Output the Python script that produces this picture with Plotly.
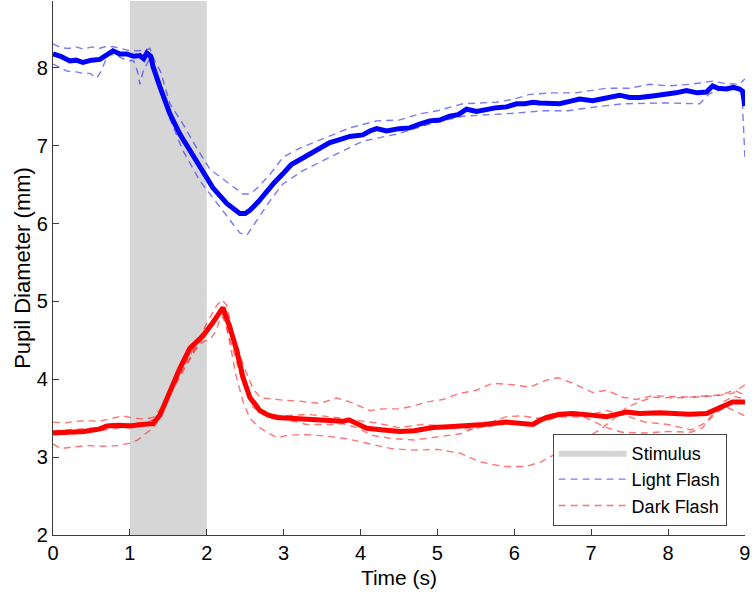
import plotly.graph_objects as go

# ---------------- data ----------------
stim_window = [1.0, 2.0]
y_axis_range = [2.0, 8.86]
x_ticks = [0, 1, 2, 3, 4, 5, 6, 7, 8, 9]
y_ticks = [2, 3, 4, 5, 6, 7, 8]

blue_mean_t = [0.0, 0.1, 0.22, 0.3, 0.39, 0.5, 0.61, 0.7, 0.78, 0.87, 0.96, 1.05, 1.13, 1.18, 1.22, 1.27,
               1.30, 1.39, 1.52, 1.65, 1.78, 1.91, 2.08, 2.26, 2.43, 2.50, 2.56, 2.67, 2.78, 2.88, 2.99,
               3.1, 3.21, 3.35, 3.48, 3.60, 3.73, 3.86, 4.03, 4.12, 4.21, 4.34, 4.5, 4.64, 4.77, 4.90,
               5.03, 5.16, 5.27, 5.38, 5.51, 5.64, 5.77, 5.90, 6.03, 6.14, 6.24, 6.33, 6.46, 6.59, 6.72,
               6.85, 7.02, 7.2, 7.37, 7.5, 7.63, 7.8, 7.98, 8.1, 8.24, 8.38, 8.50, 8.58, 8.65, 8.76,
               8.85, 8.93, 8.97, 9.0]
blue_mean_y = [8.18, 8.15, 8.09, 8.10, 8.07, 8.10, 8.11, 8.17, 8.22, 8.18, 8.18, 8.15, 8.16, 8.12, 8.19, 8.15,
               8.02, 7.76, 7.41, 7.15, 6.94, 6.72, 6.46, 6.26, 6.13, 6.13, 6.17, 6.28, 6.42, 6.53, 6.64,
               6.76, 6.82, 6.90, 6.97, 7.04, 7.08, 7.12, 7.14, 7.19, 7.22, 7.19, 7.22, 7.23, 7.28, 7.32,
               7.33, 7.38, 7.40, 7.47, 7.44, 7.47, 7.49, 7.50, 7.54, 7.54, 7.56, 7.55, 7.55, 7.54, 7.57,
               7.60, 7.58, 7.62, 7.65, 7.62, 7.62, 7.64, 7.66, 7.68, 7.71, 7.68, 7.69, 7.77, 7.74, 7.73,
               7.75, 7.73, 7.70, 7.51]

blue_upper_t = [0.0, 0.1, 0.2, 0.3, 0.4, 0.5, 0.6, 0.7, 0.8, 0.9, 1.0, 1.1, 1.2, 1.26, 1.32, 1.4, 1.52,
                1.69, 1.87, 2.04, 2.30, 2.47, 2.56, 2.65, 2.82, 2.99, 3.21, 3.43, 3.69, 3.86, 4.21, 4.5,
                4.77, 5.0, 5.33, 5.77, 6.0, 6.2, 6.5, 6.8, 7.2, 7.5, 7.76, 8.0, 8.28, 8.58, 8.75, 8.93, 9.0]
blue_upper_y = [8.31, 8.26, 8.25, 8.27, 8.24, 8.27, 8.25, 8.28, 8.27, 8.24, 8.22, 8.22, 8.23, 8.25, 8.10, 7.95, 7.54,
                7.28, 6.97, 6.70, 6.51, 6.38, 6.38, 6.45, 6.63, 6.85, 6.97, 7.06, 7.17, 7.23, 7.32, 7.33,
                7.41, 7.45, 7.54, 7.56, 7.60, 7.66, 7.68, 7.68, 7.74, 7.74, 7.79, 7.77, 7.79, 7.83, 7.80, 7.79, 7.86]

blue_lower_t = [0.0, 0.1, 0.18, 0.3, 0.4, 0.48, 0.57, 0.62, 0.72, 0.85, 0.95, 1.05, 1.10, 1.13, 1.17, 1.26,
                1.35, 1.52, 1.69, 1.91, 2.13, 2.30, 2.43, 2.52, 2.65, 2.82, 2.99, 3.25, 3.51, 3.77, 4.03,
                4.47, 4.90, 5.33, 5.68, 6.03, 6.37, 6.7, 6.98, 7.41, 7.98, 8.41, 8.54, 8.7, 8.9, 8.96, 9.0]
blue_lower_y = [8.05, 8.00, 7.96, 7.95, 7.93, 7.93, 7.87, 7.95, 8.18, 8.15, 8.10, 8.09, 7.95, 7.79, 7.95, 8.13,
                7.83, 7.35, 6.94, 6.55, 6.26, 6.04, 5.88, 5.85, 6.04, 6.29, 6.51, 6.68, 6.81, 6.94, 7.06,
                7.15, 7.28, 7.38, 7.40, 7.42, 7.45, 7.45, 7.49, 7.54, 7.55, 7.54, 7.67, 7.73, 7.72, 7.70, 6.85]

red_mean_t = [0.0, 0.2, 0.4, 0.6, 0.7, 0.85, 1.0, 1.15, 1.30, 1.39, 1.52, 1.65, 1.78, 1.95, 2.08, 2.21,
              2.30, 2.39, 2.47, 2.56, 2.69, 2.80, 2.91, 3.1, 3.34, 3.55, 3.77, 3.85, 3.95, 4.08, 4.3,
              4.51, 4.7, 4.94, 5.15, 5.38, 5.6, 5.90, 6.1, 6.24, 6.33, 6.42, 6.59, 6.76, 7.0, 7.20,
              7.46, 7.63, 7.89, 8.28, 8.50, 8.67, 8.76, 8.84, 9.0]
red_mean_y = [3.31, 3.32, 3.33, 3.36, 3.40, 3.41, 3.40, 3.42, 3.43, 3.54, 3.86, 4.14, 4.40, 4.56, 4.73, 4.92,
              4.67, 4.37, 4.03, 3.77, 3.60, 3.54, 3.51, 3.50, 3.48, 3.47, 3.46, 3.48, 3.43, 3.37, 3.35,
              3.33, 3.34, 3.38, 3.39, 3.40, 3.42, 3.45, 3.44, 3.42, 3.47, 3.51, 3.55, 3.56, 3.54, 3.52,
              3.58, 3.56, 3.57, 3.55, 3.56, 3.64, 3.69, 3.71, 3.71]

red_a_t = [0.0, 0.15, 0.3, 0.45, 0.6, 0.75, 0.9, 1.05, 1.2, 1.3, 1.4, 1.55, 1.7, 1.85, 2.0, 2.13, 2.2,
           2.26, 2.34, 2.47, 2.6, 2.7, 2.85, 3.0, 3.2, 3.47, 3.69, 3.86, 4.12, 4.3, 4.51, 4.7, 4.86,
           5.07, 5.29, 5.51, 5.72, 5.98, 6.2, 6.42, 6.57, 6.76, 7.02, 7.2, 7.41, 7.59, 7.8, 8.0, 8.33,
           8.63, 8.84, 9.0]
red_a_y = [3.45, 3.44, 3.46, 3.47, 3.46, 3.50, 3.53, 3.50, 3.49, 3.51, 3.62, 3.93, 4.22, 4.42, 4.72, 4.95, 5.02,
           4.95, 4.60, 4.20, 3.88, 3.76, 3.75, 3.73, 3.72, 3.69, 3.76, 3.71, 3.60, 3.62, 3.62, 3.66, 3.71,
           3.74, 3.82, 3.86, 3.95, 3.93, 3.90, 3.99, 4.02, 3.95, 3.83, 3.86, 3.77, 3.74, 3.79, 3.78, 3.77,
           3.79, 3.82, 3.93]

red_b_t = [0.0, 0.3, 0.6, 0.9, 1.2, 1.35, 1.5, 1.7, 1.9, 2.05, 2.18, 2.27, 2.37, 2.47, 2.6, 2.75, 3.0,
           3.3, 3.6, 3.77, 3.95, 4.15, 4.4, 4.7, 5.0, 5.3, 5.5, 5.9, 6.1, 6.3, 6.6, 6.9, 7.05, 7.2,
           7.4, 7.7, 8.0, 8.3, 8.45, 8.6, 8.75, 8.9, 9.0]
red_b_y = [3.34, 3.36, 3.38, 3.43, 3.44, 3.50, 3.80, 4.15, 4.45, 4.68, 4.88, 4.72, 4.35, 4.00, 3.68, 3.55, 3.49,
           3.42, 3.42, 3.43, 3.38, 3.28, 3.24, 3.22, 3.26, 3.30, 3.38, 3.52, 3.53, 3.50, 3.52, 3.52, 3.45, 3.38,
           3.32, 3.31, 3.33, 3.32, 3.38, 3.55, 3.65, 3.58, 3.53]

red_c_t = [0.0, 0.3, 0.6, 0.9, 1.2, 1.35, 1.5, 1.7, 1.9, 2.05, 2.18, 2.27, 2.37, 2.47, 2.6, 2.75, 3.0,
           3.3, 3.6, 3.9, 4.2, 4.5, 4.8, 5.1, 5.4, 5.7, 6.0, 6.3, 6.5, 6.8, 7.0, 7.2, 7.4, 7.7, 8.0,
           8.3, 8.5, 8.7, 8.85, 9.0]
red_c_y = [3.30, 3.31, 3.34, 3.38, 3.41, 3.47, 3.84, 4.18, 4.50, 4.72, 4.90, 4.62, 4.30, 3.95, 3.64, 3.56, 3.53,
           3.55, 3.52, 3.48, 3.44, 3.38, 3.42, 3.40, 3.36, 3.40, 3.45, 3.44, 3.50, 3.58, 3.55, 3.60, 3.55, 3.45,
           3.42, 3.35, 3.45, 3.70, 3.78, 3.75]

red_d_t = [0.0, 0.1, 0.25, 0.45, 0.65, 0.85, 1.0, 1.1, 1.2, 1.3, 1.4, 1.55, 1.7, 1.85, 1.95, 2.05, 2.12,
           2.18, 2.24, 2.3, 2.38, 2.47, 2.56, 2.66, 2.78, 2.92, 3.05, 3.3, 3.55, 3.8, 4.1, 4.4, 4.7,
           5.0, 5.3, 5.55, 5.85, 6.15, 6.35, 6.55, 6.75, 6.95, 7.15, 7.3, 7.45, 7.6, 7.8, 8.1, 8.4,
           8.7, 8.85, 9.0]
red_d_y = [3.17, 3.11, 3.13, 3.15, 3.14, 3.15, 3.18, 3.22, 3.30, 3.37, 3.52, 3.85, 4.12, 4.38, 4.48, 4.52, 4.62,
           4.80, 4.78, 4.45, 4.05, 3.72, 3.50, 3.40, 3.32, 3.25, 3.28, 3.29, 3.27, 3.24, 3.17, 3.11, 3.09,
           3.10, 3.05, 2.94, 2.88, 2.88, 2.94, 3.05, 3.12, 3.25, 3.38, 3.50, 3.63, 3.70, 3.77, 3.76, 3.78,
           3.80, 3.86, 3.80]

# ---------------- style ----------------
BLUE = "rgb(0,0,255)"
RED = "rgb(255,0,0)"
BLUE_D = "rgba(40,40,240,0.62)"
RED_D = "rgba(255,30,30,0.62)"
STIM = "rgb(214,214,214)"
AXC = "rgb(60,60,60)"
FONT = "Liberation Sans, Arial, sans-serif"
DASH = "7px,5px"

fig = go.Figure()

# stimulus window
fig.add_trace(go.Scatter(
    x=[stim_window[0], stim_window[1], stim_window[1], stim_window[0], stim_window[0]],
    y=[y_axis_range[0], y_axis_range[0], y_axis_range[1], y_axis_range[1], y_axis_range[0]],
    mode="lines", fill="toself", fillcolor=STIM, line=dict(width=0, color=STIM),
    name="Stimulus", hoverinfo="skip"))

# blue dashed traces
fig.add_trace(go.Scatter(x=blue_upper_t, y=blue_upper_y, mode="lines",
                         line=dict(color=BLUE_D, width=1.4, dash=DASH),
                         name="Light Flash", showlegend=True))
fig.add_trace(go.Scatter(x=blue_lower_t, y=blue_lower_y, mode="lines",
                         line=dict(color=BLUE_D, width=1.4, dash=DASH),
                         name="Light Flash", showlegend=False))
# red dashed traces
for i, (tt, yy) in enumerate([(red_a_t, red_a_y), (red_b_t, red_b_y),
                              (red_c_t, red_c_y), (red_d_t, red_d_y)]):
    fig.add_trace(go.Scatter(x=tt, y=yy, mode="lines",
                             line=dict(color=RED_D, width=1.4, dash=DASH),
                             name="Dark Flash", showlegend=(i == 0)))

# means
fig.add_trace(go.Scatter(x=blue_mean_t, y=blue_mean_y, mode="lines",
                         line=dict(color=BLUE, width=5), showlegend=False))
fig.add_trace(go.Scatter(x=red_mean_t, y=red_mean_y, mode="lines",
                         line=dict(color=RED, width=5), showlegend=False))

axis_common = dict(
    showline=True, linecolor=AXC, linewidth=1.2, mirror=False,
    ticks="inside", ticklen=6, tickwidth=1.2, tickcolor=AXC,
    showgrid=False, zeroline=False, ticklabeloverflow="allow",
    tickfont=dict(family=FONT, size=20, color="black"),
)

fig.update_layout(
    width=754, height=605,
    margin=dict(l=53, r=9, t=1, b=70),
    paper_bgcolor="white", plot_bgcolor="white",
    font=dict(family=FONT, size=20, color="black"),
    xaxis=dict(range=[0, 9.001], tickvals=x_ticks, ticktext=[str(v) for v in x_ticks],
               title=dict(text="Time (s)", font=dict(family=FONT, size=21), standoff=7),
               **axis_common),
    yaxis=dict(range=y_axis_range, tickvals=y_ticks,
               title=dict(text="Pupil Diameter (mm)", font=dict(family=FONT, size=22), standoff=0),
               **axis_common),
    legend=dict(x=0.722, y=0.19, xanchor="left", yanchor="top",
                bgcolor="white", bordercolor="rgb(70,70,70)", borderwidth=1,
                font=dict(family=FONT, size=18, color="black"),
                itemwidth=68, tracegroupgap=0),
    showlegend=True,
)

fig.write_html("out.html", config={"displayModeBar": False},
               post_script="document.body.style.margin='0px';document.body.style.padding='0px';")
